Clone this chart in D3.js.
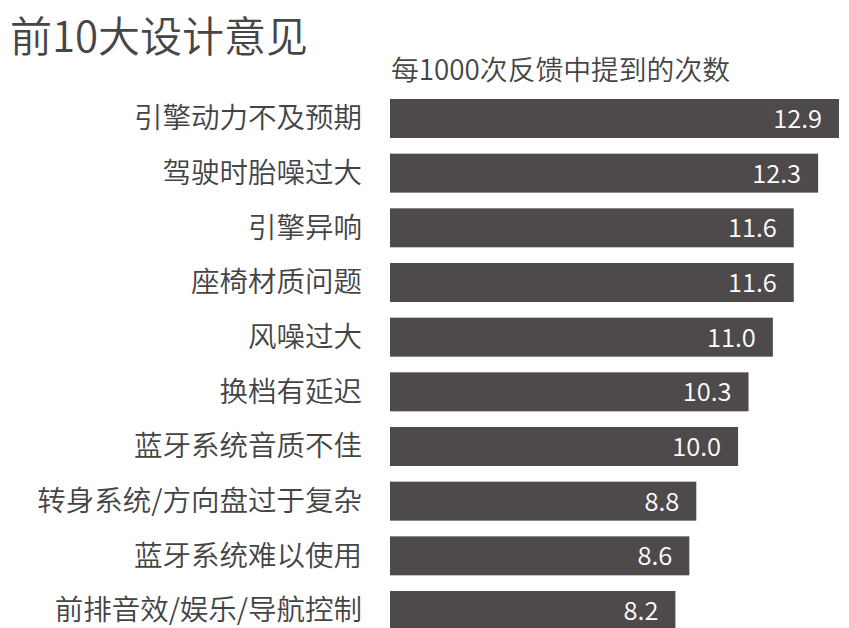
<!DOCTYPE html>
<html>
<head>
<meta charset="utf-8">
<script src="https://cdn.jsdelivr.net/npm/d3@7"></script>
<style>
  body { margin: 0; background: #fff; }
  svg text { font-family: "Noto Sans CJK SC", "Noto Sans", sans-serif; font-weight: 350; }
</style>
</head>
<body>
<div id="main"><svg width="849" height="628"></svg></div>
<script>
// data
var categories = ["引擎动力不及预期", "驾驶时胎噪过大", "引擎异响", "座椅材质问题", "风噪过大",
  "换档有延迟", "蓝牙系统音质不佳", "转身系统/方向盘过于复杂", "蓝牙系统难以使用", "前排音效/娱乐/导航控制"];
var values = [12.9, 12.3, 11.6, 11.6, 11.0, 10.3, 10.0, 8.8, 8.6, 8.2];
var labels = ["12.9", "12.3", "11.6", "11.6", "11.0", "10.3", "10.0", "8.8", "8.6", "8.2"];

var titleText = "前10大设计意见";
var subtitleText = "每1000次反馈中提到的次数";

var svg = d3.select("#main svg");

var data = categories.map(function(c, i) {
  return {name: c, value: values[i], label: labels[i]};
});

var xScale = d3.scaleLinear()
  .domain([0, 12.9])
  .range([390, 839]);

var yScale = d3.scaleBand()
  .domain(categories)
  .range([99, 630])
  .paddingInner(0.287)
  .paddingOuter(0);

svg.append("text")
  .attr("x", 10)
  .attr("y", 52)
  .attr("font-size", 42)
  .attr("fill", "#464646")
  .text(titleText);

svg.append("text")
  .attr("x", 391)
  .attr("y", 80)
  .attr("font-size", 27.8)
  .attr("fill", "#464646")
  .text(subtitleText);

var rows = svg.selectAll(".row")
  .data(data)
  .enter().append("g")
  .attr("class", "row");

rows.append("rect")
  .attr("x", xScale(0))
  .attr("y", function(d) { return yScale(d.name); })
  .attr("width", function(d) { return xScale(d.value) - xScale(0); })
  .attr("height", yScale.bandwidth())
  .attr("fill", "#4e4a4b");

rows.append("text")
  .attr("x", 362)
  .attr("y", function(d) { return yScale(d.name) + yScale.bandwidth() / 2; })
  .attr("dy", "0.35em")
  .attr("text-anchor", "end")
  .attr("font-size", 28.5)
  .attr("fill", "#444444")
  .text(function(d) { return d.name; });

rows.append("text")
  .attr("x", function(d) { return xScale(d.value) - 17; })
  .attr("y", function(d) { return yScale(d.name) + yScale.bandwidth() / 2; })
  .attr("dy", "0.37em")
  .attr("text-anchor", "end")
  .attr("font-size", 25.5)
  .attr("fill", "#ffffff")
  .text(function(d) { return d.label; });
</script>
</body>
</html>
